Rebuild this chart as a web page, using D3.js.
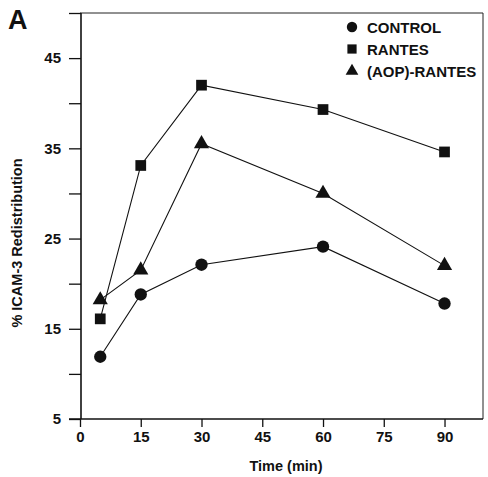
<!DOCTYPE html>
<html>
<head>
<meta charset="utf-8">
<script src="https://cdn.jsdelivr.net/npm/d3@7"></script>
<style>
  body { margin: 0; background: #fff; }
  text { font-family: "Liberation Sans", Arial, sans-serif; font-weight: bold; fill: #111; }
</style>
</head>
<body>
<div id="chart"></div>
<script>
// Data
const times = [5, 15, 30, 60, 90];
const control = [11.9, 18.8, 22.1, 24.1, 17.8];
const rantes = [16.1, 33.1, 42.0, 39.3, 34.6];
const aopRantes = [18.2, 21.5, 35.5, 30.0, 22.0];
const xTicks = [0, 15, 30, 45, 60, 75, 90];
const yTicks = [5, 10, 15, 20, 25, 30, 35, 40, 45, 50];
const yLabeled = [5, 15, 25, 35, 45];

const series = [
    { name: "CONTROL", values: control, shape: "circle" },
    { name: "RANTES", values: rantes, shape: "square" },
    { name: "(AOP)-RANTES", values: aopRantes, shape: "triangle" }
];

const width = 488;
const height = 477;

const svg = d3.select("#chart")
    .append("svg")
    .attr("width", width)
    .attr("height", height);

// Scales
const x = d3.scaleLinear().domain([0, 99.5]).range([80, 483]);
const y = d3.scaleLinear().domain([5, 50]).range([419, 13]);

// Frame (top + right)
svg.append("path")
    .attr("d", `M${x(0)},${y(50)}H${x(99.5)}V${y(5)}`)
    .attr("fill", "none")
    .attr("stroke", "#222")
    .attr("stroke-width", 1);

// Y axis
const yAxis = svg.append("g")
    .attr("transform", `translate(${x(0) + 1},0)`)
    .call(d3.axisLeft(y)
        .tickValues(yTicks)
        .tickSize(12)
        .tickPadding(8)
        .tickFormat(d => yLabeled.includes(d) ? d : ""));

// X axis
const xAxis = svg.append("g")
    .attr("transform", `translate(0,${y(5)})`)
    .call(d3.axisBottom(x)
        .tickValues(xTicks)
        .tickSize(8)
        .tickPadding(4));

[yAxis, xAxis].forEach(g => {
    g.select(".domain").attr("stroke", "#111").attr("stroke-width", 1.6);
    g.selectAll(".tick line").attr("stroke", "#111").attr("stroke-width", 1.3);
    g.selectAll(".tick text")
        .style("font-family", "'Liberation Sans', Arial, sans-serif")
        .style("font-weight", "bold")
        .style("font-size", "15px")
        .attr("fill", "#111");
});
// extend x axis line left like a tick
xAxis.select(".domain").attr("d", `M${x(0) - 11},0H${x(99.5)}`);
yAxis.select(".domain").attr("d", `M0,${y(5)}V${y(50)}`);

// Axis titles
svg.append("text")
    .attr("x", 286)
    .attr("y", 471)
    .attr("text-anchor", "middle")
    .style("font-size", "14.5px")
    .text("Time (min)");

svg.append("text")
    .attr("transform", `translate(22,${(y(5) + y(50)) / 2 + 27}) rotate(-90)`)
    .attr("text-anchor", "middle")
    .style("font-size", "14.5px")
    .text("% ICAM-3 Redistribution");

// Panel letter
svg.append("text")
    .attr("x", 8)
    .attr("y", 29)
    .style("font-size", "27px")
    .text("A");

// Symbols
const symbolType = { circle: d3.symbolCircle, square: d3.symbolSquare, triangle: d3.symbolTriangle };
const symbolSize = { circle: 120, square: 115, triangle: 100 };

const line = d3.line()
    .x((d, i) => x(times[i]))
    .y(d => y(d));

series.forEach(s => {
    svg.append("path")
        .datum(s.values)
        .attr("d", line)
        .attr("fill", "none")
        .attr("stroke", "#111")
        .attr("stroke-width", 1.1);

    svg.append("g")
        .selectAll("path")
        .data(s.values)
        .enter().append("path")
        .attr("transform", (d, i) => `translate(${x(times[i])},${y(d)})`)
        .attr("d", d3.symbol().type(symbolType[s.shape]).size(symbolSize[s.shape]))
        .attr("fill", "#111");
});

// Legend
const legend = svg.append("g")
    .attr("transform", "translate(352,27)")
    .selectAll("g")
    .data(series)
    .enter().append("g")
    .attr("transform", (d, i) => `translate(0,${i * 22})`);

legend.append("path")
    .attr("d", d => d3.symbol().type(symbolType[d.shape]).size(d.shape === "triangle" ? 70 : 85)())
    .attr("fill", "#111");

legend.append("text")
    .attr("x", 15)
    .attr("y", 6)
    .style("font-size", "15px")
    .text(d => d.name);
</script>
</body>
</html>
